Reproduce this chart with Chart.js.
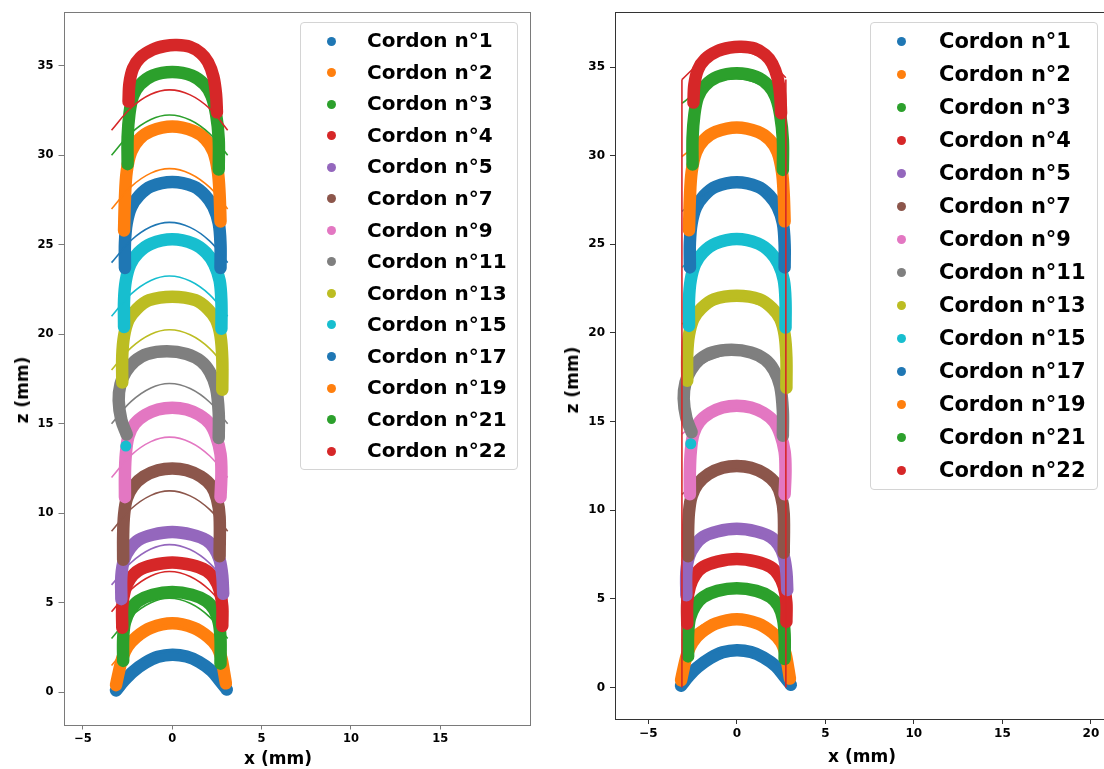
<!DOCTYPE html>
<html>
<head>
<meta charset="utf-8">
<script src="https://cdn.jsdelivr.net/npm/chart.js@4.4.0/dist/chart.umd.min.js"></script>
<style>
html, body { margin: 0; padding: 0; background: #fff; overflow: hidden; width: 1104px; height: 769px; }
canvas { position: absolute; top: 0; }
#left { left: 0; }
#right { left: 555px; }
.legend { position: absolute; border: 1px solid #d4d4d4; border-radius: 4px; background: rgba(255,255,255,0.8);
  font-family: "DejaVu Sans", sans-serif; font-weight: bold; color: #000; box-sizing: border-box; }
.legend .row { position: absolute; white-space: nowrap; }
.legend .dot { position: absolute; border-radius: 50%; width: 9px; height: 9px; }
.atitle { position: absolute; font-family: "DejaVu Sans", sans-serif; font-weight: bold; font-size: 17px;
  color: #000; white-space: nowrap; transform: translate(-50%, -50%); }
.atitle.rot { transform: translate(-50%, -50%) rotate(-90deg); }
</style>
</head>
<body>
<canvas id="left" width="545" height="769" style="width:545px;height:769px"></canvas>
<canvas id="right" width="570" height="769" style="width:570px;height:769px"></canvas>
<div id="legL" class="legend"></div>
<div id="legR" class="legend"></div>
<div class="atitle" style="left:278px;top:758px">x (mm)</div>
<div class="atitle rot" style="left:22px;top:390px">z (mm)</div>
<div class="atitle" style="left:862px;top:756px">x (mm)</div>
<div class="atitle rot" style="left:572px;top:380px">z (mm)</div>
<script>
// beads (centre line of each band)
const cordonLabels = ['Cordon n°1', 'Cordon n°2', 'Cordon n°3', 'Cordon n°4', 'Cordon n°5', 'Cordon n°7', 'Cordon n°9',
  'Cordon n°11', 'Cordon n°13', 'Cordon n°15', 'Cordon n°17', 'Cordon n°19', 'Cordon n°21', 'Cordon n°22'];

const cordonX = [
  [-3.15, -2.7, -2.2, -1.5, -0.8, 0, 0.8, 1.5, 2.2, 2.7, 3.05],
  [-3.15, -3.0, -2.8, -2.5, -2.0, -1.2, 0, 1.2, 2.0, 2.5, 2.75, 2.9, 3.0],
  [-2.75, -2.75, -2.65, -2.35, -1.9, -1.1, 0, 1.1, 1.9, 2.35, 2.6, 2.7, 2.7],
  [-2.8, -2.8, -2.65, -2.35, -1.9, -1.1, 0, 1.1, 1.9, 2.35, 2.65, 2.8, 2.8],
  [-2.85, -2.85, -2.7, -2.35, -1.9, -1.1, 0, 1.1, 1.9, 2.35, 2.65, 2.8, 2.85],
  [-2.75, -2.75, -2.7, -2.55, -2.2, -1.6, -0.8, 0, 0.8, 1.6, 2.2, 2.5, 2.65, 2.65],
  [-2.65, -2.65, -2.6, -2.45, -2.1, -1.5, -0.8, 0, 0.8, 1.5, 2.1, 2.45, 2.7, 2.75, 2.7],
  [-2.55, -2.85, -3.0, -2.9, -2.6, -2.1, -1.4, -0.3, 0.8, 1.6, 2.1, 2.45, 2.6, 2.6],
  [-2.8, -2.8, -2.7, -2.45, -2.0, -1.3, 0, 1.3, 2.0, 2.45, 2.7, 2.8, 2.8],
  [-2.7, -2.7, -2.6, -2.35, -1.9, -1.2, 0, 1.2, 1.9, 2.35, 2.65, 2.75, 2.75],
  [-2.65, -2.65, -2.55, -2.3, -1.85, -1.2, 0, 1.2, 1.85, 2.3, 2.6, 2.7, 2.7],
  [-2.7, -2.65, -2.55, -2.3, -1.85, -1.2, 0, 1.2, 1.85, 2.3, 2.55, 2.65, 2.7],
  [-2.5, -2.5, -2.4, -2.2, -1.8, -1.1, 0, 1.1, 1.8, 2.2, 2.45, 2.6, 2.6],
  [-2.45, -2.4, -2.2, -1.8, -1.1, -0.4, 0.25, 1.0, 1.6, 2.0, 2.3, 2.45, 2.5]
];
const cordonZ = [
  [0.1, 0.65, 1.15, 1.65, 1.98, 2.1, 2.0, 1.7, 1.2, 0.6, 0.15],
  [0.4, 1.1, 1.9, 2.55, 3.1, 3.6, 3.85, 3.6, 3.1, 2.55, 1.9, 1.1, 0.5],
  [1.75, 3.0, 3.9, 4.6, 5.1, 5.45, 5.6, 5.45, 5.1, 4.6, 3.9, 3.0, 1.6],
  [3.6, 4.8, 5.7, 6.35, 6.8, 7.1, 7.25, 7.1, 6.8, 6.35, 5.7, 4.8, 3.7],
  [5.2, 6.5, 7.4, 8.05, 8.5, 8.8, 8.95, 8.8, 8.5, 8.05, 7.4, 6.5, 5.5],
  [7.4, 8.8, 9.9, 10.8, 11.5, 12.05, 12.4, 12.5, 12.4, 12.05, 11.5, 10.8, 9.8, 7.6],
  [10.9, 12.2, 13.3, 14.3, 15.0, 15.5, 15.8, 15.9, 15.8, 15.5, 15.0, 14.3, 13.3, 12.2, 10.9],
  [14.4, 15.2, 16.3, 17.2, 17.9, 18.5, 18.9, 19.05, 18.9, 18.5, 17.9, 17.0, 15.6, 14.2],
  [17.3, 18.8, 19.9, 20.8, 21.4, 21.9, 22.1, 21.9, 21.4, 20.8, 19.9, 18.6, 16.9],
  [20.4, 21.9, 23.0, 23.9, 24.55, 25.05, 25.3, 25.05, 24.55, 23.9, 23.0, 21.8, 20.3],
  [23.7, 25.1, 26.2, 27.1, 27.75, 28.25, 28.5, 28.25, 27.75, 27.1, 26.2, 25.0, 23.7],
  [25.8, 27.6, 29.1, 30.2, 30.9, 31.35, 31.6, 31.35, 30.9, 30.2, 29.1, 27.8, 26.3],
  [29.5, 31.0, 32.3, 33.3, 33.95, 34.45, 34.65, 34.45, 33.95, 33.3, 32.3, 30.9, 29.2],
  [33.0, 34.0, 34.85, 35.45, 35.9, 36.1, 36.15, 36.05, 35.7, 35.2, 34.4, 33.4, 32.4]
];
// lone point of n°15
const strayX = [-2.6];
const strayZ = [13.75];

// fitted arcs, left panel
const fitLeftX = [-3.4, -2.3, -1.2, -0.15, 1.0, 2.1, 3.1];
const fitLeftZ = [
  [0.0, 1.25, 2.0, 2.25, 1.97, 1.2, 0.0],
  [1.5, 2.75, 3.5, 3.75, 3.47, 2.7, 1.5],
  [3.0, 4.25, 5.0, 5.25, 4.97, 4.2, 3.0],
  [4.5, 5.75, 6.5, 6.75, 6.47, 5.7, 4.5],
  [6.0, 7.25, 8.0, 8.25, 7.97, 7.2, 6.0],
  [9.0, 10.25, 11.0, 11.25, 10.97, 10.2, 9.0],
  [12.0, 13.25, 14.0, 14.25, 13.97, 13.2, 12.0],
  [15.0, 16.25, 17.0, 17.25, 16.97, 16.2, 15.0],
  [18.0, 19.25, 20.0, 20.25, 19.97, 19.2, 18.0],
  [21.0, 22.25, 23.0, 23.25, 22.97, 22.2, 21.0],
  [24.0, 25.25, 26.0, 26.25, 25.97, 25.2, 24.0],
  [27.0, 28.25, 29.0, 29.25, 28.97, 28.2, 27.0],
  [30.0, 31.25, 32.0, 32.25, 31.97, 31.2, 30.0],
  [31.4, 32.65, 33.4, 33.65, 33.37, 32.6, 31.4]
];

// fitted arcs, right panel
const fitRightX = [-3.1, -2.0, -1.0, -0.1, 0.8, 1.8, 2.77];
const fitRightZ = [
  [0.8, 1.64, 2.07, 2.2, 2.07, 1.64, 0.92],
  [2.66, 3.5, 3.93, 4.06, 3.93, 3.5, 2.78],
  [4.35, 5.19, 5.62, 5.75, 5.62, 5.19, 4.47],
  [5.94, 6.78, 7.21, 7.34, 7.21, 6.78, 6.06],
  [7.63, 8.47, 8.9, 9.03, 8.9, 8.47, 7.75],
  [10.9, 11.74, 12.17, 12.3, 12.17, 11.74, 11.02],
  [14.3, 15.14, 15.57, 15.7, 15.57, 15.14, 14.42],
  [17.4, 18.24, 18.67, 18.8, 18.67, 18.24, 17.52],
  [20.5, 21.34, 21.77, 21.9, 21.77, 21.34, 20.62],
  [23.7, 24.54, 24.97, 25.1, 24.97, 24.54, 23.82],
  [26.86, 27.7, 28.13, 28.26, 28.13, 27.7, 26.98],
  [29.95, 30.79, 31.22, 31.35, 31.22, 30.79, 30.07],
  [32.95, 33.79, 34.22, 34.35, 34.22, 33.79, 33.07],
  [34.3, 35.3, 35.8, 36.0, 35.8, 35.3, 34.4]
];
// side walls of the right panel
const wallX = [-3.1, -3.1, null, 2.77, 2.77];
const wallZ = [0, 34.3, null, 34.3, 0];

const yTicks = [0, 5, 10, 15, 20, 25, 30, 35];
const xTicksLeft = [-5, 0, 5, 10, 15];
const xTicksRight = [-5, 0, 5, 10, 15, 20];

const palette = ['#1f77b4', '#ff7f0e', '#2ca02c', '#d62728', '#9467bd', '#8c564b', '#e377c2',
  '#7f7f7f', '#bcbd22', '#17becf', '#1f77b4', '#ff7f0e', '#2ca02c', '#d62728'];

function pts(xs, zs) {
  return xs.map((x, i) => ({x: x, y: zs[i]}));
}

function tickLabel(v) {
  return v < 0 ? '\u2212' + Math.abs(v) : String(v);
}

const framePlugin = {
  id: 'frame',
  afterDatasetsDraw(chart, args, opts) {
    const a = chart.chartArea;
    const c = chart.ctx;
    c.save();
    c.strokeStyle = opts.color;
    c.lineWidth = 1;
    c.strokeRect(Math.round(a.left) + 0.5, Math.round(a.top) + 0.5,
      Math.round(a.right - a.left), Math.round(a.bottom - a.top));
    c.restore();
  }
};

function makeChart(id, o) {
  const ds = [];
  cordonLabels.forEach((lab, i) => {
    ds.push({
      label: lab, data: pts(cordonX[i], cordonZ[i]), showLine: true,
      borderColor: palette[i], backgroundColor: palette[i], borderWidth: 12.5,
      pointRadius: 0, tension: 0.35, borderCapStyle: 'round', borderJoinStyle: 'round',
      order: 1000 - 2 * i
    });
    ds.push({
      data: pts(o.fitX, o.fitZ[i]), showLine: true, borderColor: palette[i],
      borderWidth: 1.6, pointRadius: 0, tension: 0.4, order: 999 - 2 * i
    });
  });
  ds.push({data: pts(strayX, strayZ), backgroundColor: palette[9], borderWidth: 0, pointRadius: 5.5, order: 982});
  if (o.wall) {
    ds.push({data: pts(wallX, wallZ), showLine: true, borderColor: palette[13], borderWidth: 1.6, pointRadius: 0, order: 0});
  }

  const tickFont = {family: 'DejaVu Sans', weight: 'bold', size: o.tickSize};
  const grid = {display: true, drawOnChartArea: false, drawTicks: true, tickLength: 5, color: o.spine, tickColor: o.spine};

  return new Chart(document.getElementById(id), {
    type: 'scatter',
    data: {datasets: ds},
    options: {
      responsive: false,
      animation: false,
      events: [],
      layout: {padding: o.padding},
      plugins: {legend: {display: false}, tooltip: {enabled: false}, frame: {color: o.spine}},
      scales: {
        x: {
          type: 'linear', min: o.xMin, max: o.xMax,
          afterBuildTicks: a => { a.ticks = o.xTicks.map(v => ({value: v})); },
          afterFit: s => { s.height = o.xH; },
          grid: grid, border: {display: false},
          ticks: {font: tickFont, color: '#000', padding: 3, maxRotation: 0, autoSkip: false, callback: tickLabel}
        },
        y: {
          type: 'linear', min: o.yMin, max: o.yMax,
          afterBuildTicks: a => { a.ticks = yTicks.map(v => ({value: v})); },
          afterFit: s => { s.width = o.yW; },
          grid: grid, border: {display: false},
          ticks: {font: tickFont, color: '#000', padding: 5, autoSkip: false, callback: tickLabel}
        }
      }
    },
    plugins: [framePlugin]
  });
}

makeChart('left', {
  fitX: fitLeftX, fitZ: fitLeftZ, wall: false,
  xMin: -6.09, xMax: 19.97, yMin: -1.8, yMax: 38.0, xTicks: xTicksLeft,
  padding: {left: 0, top: 12, right: 16, bottom: 0}, yW: 63.5, xH: 44.5,
  spine: '#7a7a7a', tickSize: 11.5
});
makeChart('right', {
  fitX: fitRightX, fitZ: fitRightZ, wall: true,
  xMin: -6.88, xMax: 21.19, yMin: -1.78, yMax: 38.1, xTicks: xTicksRight,
  padding: {left: 0, top: 10, right: 13, bottom: 0}, yW: 60, xH: 50,
  spine: '#333333', tickSize: 12
});

function buildLegend(id, box, first, gap, fontPx, dotX, textX) {
  const el = document.getElementById(id);
  Object.assign(el.style, {left: box[0] + 'px', top: box[1] + 'px', width: box[2] + 'px', height: box[3] + 'px', fontSize: fontPx + 'px'});
  cordonLabels.forEach((lab, i) => {
    const cy = first + i * gap;
    const dot = document.createElement('div');
    dot.className = 'dot';
    dot.style.left = (dotX - 4.5) + 'px';
    dot.style.top = (cy - 4.5) + 'px';
    dot.style.background = palette[i];
    el.appendChild(dot);
    const row = document.createElement('div');
    row.className = 'row';
    row.textContent = lab;
    row.style.left = textX + 'px';
    row.style.top = (cy - gap / 2) + 'px';
    row.style.height = gap + 'px';
    row.style.lineHeight = gap + 'px';
    el.appendChild(row);
  });
}
buildLegend('legL', [300, 22, 218, 448], 18, 31.55, 20, 30, 66);
buildLegend('legR', [870, 22, 228, 468], 18, 33, 21, 30, 68);
</script>
</body>
</html>
